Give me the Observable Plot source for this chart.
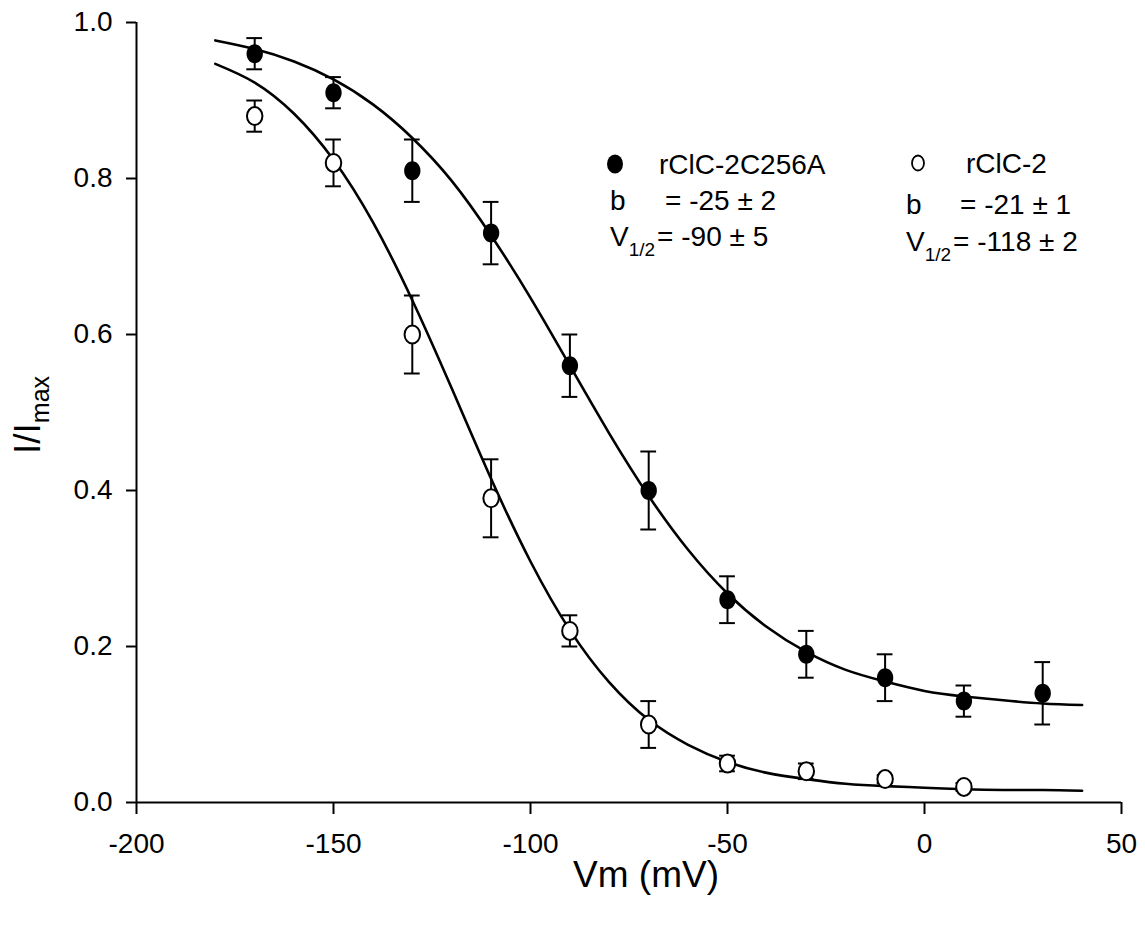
<!DOCTYPE html>
<html>
<head>
<meta charset="utf-8">
<script src="https://cdn.jsdelivr.net/npm/d3@7"></script>
<script src="https://cdn.jsdelivr.net/npm/@observablehq/plot@0.6"></script>
<style>
  body { margin: 0; background: #fff; }
  svg { display: block; }
</style>
</head>
<body>
<div id="chart"></div>
<script>
// ---- Data ----
// rClC-2C256A (filled circles)
const vFilled = [-170, -150, -130, -110, -90, -70, -50, -30, -10, 10, 30];
const iFilled = [0.96, 0.91, 0.81, 0.73, 0.56, 0.40, 0.26, 0.19, 0.16, 0.13, 0.14];
const eFilled = [0.02, 0.02, 0.04, 0.04, 0.04, 0.05, 0.03, 0.03, 0.03, 0.02, 0.04];
// rClC-2 (open circles)
const vOpen = [-170, -150, -130, -110, -90, -70, -50, -30, -10, 10];
const iOpen = [0.88, 0.82, 0.60, 0.39, 0.22, 0.10, 0.05, 0.04, 0.03, 0.02];
const eOpen = [0.02, 0.03, 0.05, 0.05, 0.02, 0.03, 0.01, 0.01, 0.005, 0.005];
// fitted curves, read every 10 mV
const fitV = [-180, -170, -160, -150, -140, -130, -120, -110, -100, -90, -80, -70, -60, -50, -40, -30, -20, -10, 0, 10, 20, 30, 40];
const fitFilled = [0.977, 0.966, 0.950, 0.927, 0.895, 0.852, 0.797, 0.727, 0.647, 0.560, 0.473, 0.393, 0.324, 0.268, 0.225, 0.193, 0.170, 0.155, 0.143, 0.136, 0.131, 0.127, 0.125];
const fitOpen = [0.947, 0.923, 0.883, 0.824, 0.744, 0.644, 0.531, 0.415, 0.309, 0.221, 0.154, 0.106, 0.074, 0.052, 0.038, 0.030, 0.024, 0.021, 0.019, 0.017, 0.016, 0.016, 0.015];
// axes
const xTicks = [-200, -150, -100, -50, 0, 50];
const yTicks = [0, 0.2, 0.4, 0.6, 0.8, 1.0];
const xDomain = [-200, 50];
const yDomain = [0, 1];

// ---- tables ----
const filled = vFilled.map((v, k) => ({v, i: iFilled[k], e: eFilled[k]}));
const open = vOpen.map((v, k) => ({v, i: iOpen[k], e: eOpen[k]}));
const curveFilled = fitV.map((v, k) => ({v, i: fitFilled[k]}));
const curveOpen = fitV.map((v, k) => ({v, i: fitOpen[k]}));

const capHalf = 2; // mV
const FONT = "'Liberation Sans', Arial, Helvetica, sans-serif";

// slightly tall ellipse symbol
const ellipse = {
  draw(ctx, size) {
    const r = Math.sqrt(size / Math.PI);
    const rx = r * 0.86, ry = r, k = 0.5523;
    ctx.moveTo(rx, 0);
    ctx.bezierCurveTo(rx, k * ry, k * rx, ry, 0, ry);
    ctx.bezierCurveTo(-k * rx, ry, -rx, k * ry, -rx, 0);
    ctx.bezierCurveTo(-rx, -k * ry, -k * rx, -ry, 0, -ry);
    ctx.bezierCurveTo(k * rx, -ry, rx, -k * ry, rx, 0);
    ctx.closePath();
  }
};

function errorMarks(data) {
  return [
    Plot.ruleX(data, {x: "v", y1: d => d.i - d.e, y2: d => d.i + d.e, stroke: "black", strokeWidth: 2}),
    Plot.ruleY(data, {y: d => d.i + d.e, x1: d => d.v - capHalf, x2: d => d.v + capHalf, stroke: "black", strokeWidth: 2}),
    Plot.ruleY(data, {y: d => d.i - d.e, x1: d => d.v - capHalf, x2: d => d.v + capHalf, stroke: "black", strokeWidth: 2})
  ];
}

const plot = Plot.plot({
  width: 1145,
  height: 933,
  marginLeft: 136,
  marginRight: 24,
  marginTop: 22,
  marginBottom: 131,
  style: {fontFamily: FONT, color: "black", background: "white"},
  x: {domain: xDomain},
  y: {domain: yDomain},
  marks: [
    Plot.axisX({ticks: xTicks, tickSize: 12, tickPadding: 19, tickFormat: d => `${d}`, fontSize: 28, label: null, strokeWidth: 2}),
    Plot.axisY({ticks: yTicks, tickSize: 10, tickPadding: 14, tickFormat: d3.format(".1f"), fontSize: 28, label: null, strokeWidth: 2}),
    Plot.ruleY([0], {stroke: "black", strokeWidth: 2}),
    Plot.ruleX([-200], {stroke: "black", strokeWidth: 2}),
    Plot.line(curveFilled, {x: "v", y: "i", curve: "natural", stroke: "black", strokeWidth: 2.6}),
    Plot.line(curveOpen, {x: "v", y: "i", curve: "natural", stroke: "black", strokeWidth: 2.6}),
    ...errorMarks(filled),
    ...errorMarks(open),
    Plot.dot(filled, {x: "v", y: "i", r: 9.5, symbol: ellipse, fill: "black", stroke: "none"}),
    Plot.dot(open, {x: "v", y: "i", r: 9, symbol: ellipse, fill: "white", stroke: "black", strokeWidth: 2})
  ]
});

document.getElementById("chart").appendChild(plot);

// ---- axis titles and legend (real text) ----
const svg = d3.select(plot);
const g = svg.append("g").attr("font-family", FONT).attr("fill", "black").attr("text-anchor", "start");

// x title
g.append("text").attr("x", 646).attr("y", 887).attr("text-anchor", "middle")
  .attr("font-size", 37).text("Vm (mV)");

// y title I/Imax
const yt = g.append("text").attr("transform", "translate(40,454) rotate(-90)")
  .attr("text-anchor", "start").attr("font-size", 37);
yt.append("tspan").text("I/I");
yt.append("tspan").attr("font-size", 25).attr("dy", 9).text("max");

function legendBlock(o) {
  g.append("ellipse").attr("cx", o.mx).attr("cy", o.my).attr("rx", o.rx).attr("ry", o.ry)
    .attr("fill", o.filled ? "black" : "white").attr("stroke", "black").attr("stroke-width", o.filled ? 0 : 1.8);
  g.append("text").attr("x", o.nameX).attr("y", o.row1).attr("font-size", 28).text(o.name);
  g.append("text").attr("x", o.labX).attr("y", o.row2).attr("font-size", 28).text("b");
  g.append("text").attr("x", o.eqX).attr("y", o.row2).attr("font-size", 28).text(o.bText);
  const t = g.append("text").attr("x", o.labX).attr("y", o.row3).attr("font-size", 28);
  t.append("tspan").text("V");
  t.append("tspan").attr("font-size", 19).attr("dy", 10).text("1/2");
  t.append("tspan").attr("dy", -10).attr("dx", 2).text(o.vText);
}

legendBlock({filled: true, mx: 615, my: 164, rx: 8, ry: 9.5, name: "rClC-2C256A", nameX: 659,
  labX: 610, eqX: 665, row1: 174, row2: 210, row3: 246, bText: "= -25 \u00b1 2", vText: "= -90 \u00b1 5"});
legendBlock({filled: false, mx: 918, my: 163, rx: 6, ry: 7.5, name: "rClC-2", nameX: 966,
  labX: 906, eqX: 960, row1: 173, row2: 214, row3: 251, bText: "= -21 \u00b1 1", vText: "= -118 \u00b1 2"});
</script>
</body>
</html>
